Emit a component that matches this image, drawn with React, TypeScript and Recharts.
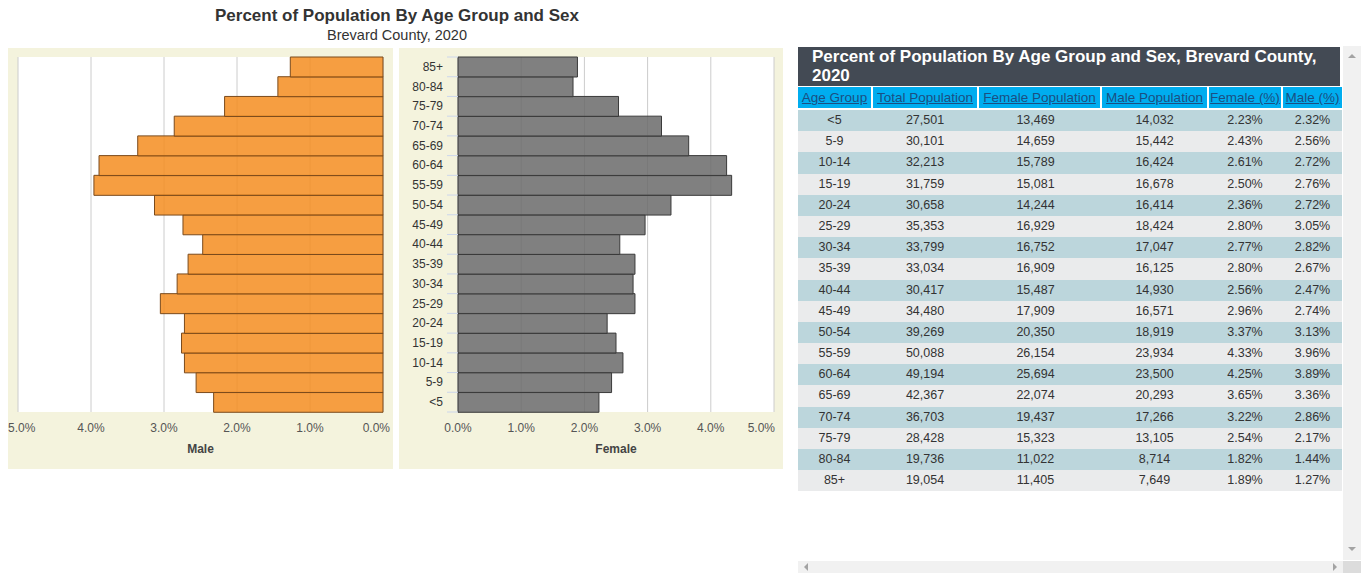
import React from 'react';
import { BarChart, Bar, XAxis, YAxis, CartesianGrid } from 'recharts';

const ageGroups = ['<5', '5-9', '10-14', '15-19', '20-24', '25-29', '30-34', '35-39', '40-44', '45-49', '50-54', '55-59', '60-64', '65-69', '70-74', '75-79', '80-84', '85+'];
const totalPopulation = [27501, 30101, 32213, 31759, 30658, 35353, 33799, 33034, 30417, 34480, 39269, 50088, 49194, 42367, 36703, 28428, 19736, 19054];
const femalePopulation = [13469, 14659, 15789, 15081, 14244, 16929, 16752, 16909, 15487, 17909, 20350, 26154, 25694, 22074, 19437, 15323, 11022, 11405];
const malePopulation = [14032, 15442, 16424, 16678, 16414, 18424, 17047, 16125, 14930, 16571, 18919, 23934, 23500, 20293, 17266, 13105, 8714, 7649];
const femalePct = [2.23, 2.43, 2.61, 2.5, 2.36, 2.8, 2.77, 2.8, 2.56, 2.96, 3.37, 4.33, 4.25, 3.65, 3.22, 2.54, 1.82, 1.89];
const malePct = [2.32, 2.56, 2.72, 2.76, 2.72, 3.05, 2.82, 2.67, 2.47, 2.74, 3.13, 3.96, 3.89, 3.36, 2.86, 2.17, 1.44, 1.27];
const pctTicks = [0, 1, 2, 3, 4, 5];
const columnHeaders = ['Age Group', 'Total Population', 'Female Population', 'Male Population', 'Female (%)', 'Male (%)'];

const FONT = "'Liberation Sans', Arial, Helvetica, sans-serif";
const PLOT_H = 355;
const BAND = PLOT_H / ageGroups.length;
const colWidths = [73, 104, 121, 105, 72, 59];

const chartData = ageGroups.map((age, i) => ({ age, male: malePct[i], female: femalePct[i] }));

const fmtNum = (v: number) => v.toLocaleString('en-US');
const fmtPct = (v: number) => v.toFixed(2) + '%';

// x tick labels; the outer ones are pulled inside the panel like the original
const MaleTick = (props: any) => {
  const { x, y, payload } = props;
  let anchor: 'start' | 'middle' | 'end' = 'middle';
  let tx = x;
  if (payload.value === 5) { anchor = 'start'; tx = x - 10; }
  if (payload.value === 0) { anchor = 'end'; tx = x + 7; }
  return (
    <text x={tx} y={y + 20} textAnchor={anchor} fontSize={12} fill="#555" fontFamily={FONT}>
      {payload.value.toFixed(1) + '%'}
    </text>
  );
};

const FemaleTick = (props: any) => {
  const { x, y, payload } = props;
  let anchor: 'start' | 'middle' | 'end' = 'middle';
  let tx = x;
  if (payload.value === 5) { anchor = 'end'; tx = x + 1; }
  return (
    <text x={tx} y={y + 20} textAnchor={anchor} fontSize={12} fill="#555" fontFamily={FONT}>
      {payload.value.toFixed(1) + '%'}
    </text>
  );
};

const AgeTick = (props: any) => {
  const { x, y, payload, index } = props;
  return (
    <g>
      <line x1={x - 11} x2={x} y1={y - BAND / 2} y2={y - BAND / 2} stroke="#ccd6eb" />
      {index === 0 && <line x1={x - 11} x2={x} y1={y + BAND / 2} y2={y + BAND / 2} stroke="#ccd6eb" />}
      <text x={x - 15} y={y + 4} textAnchor="end" fontSize={12} fill="#333" fontFamily={FONT}>
        {payload.value}
      </text>
    </g>
  );
};

const axisLabelStyle = { fontSize: 12, fontWeight: 'bold', fill: '#444', fontFamily: FONT };

const panelStyle: React.CSSProperties = {
  position: 'absolute',
  top: 48,
  height: 421,
  background: '#f4f3dd',
};

const Arrow = ({ dir, left, top }: { dir: 'up' | 'down' | 'left' | 'right'; left: number; top: number }) => {
  const c = '#a3a3a3';
  const s: React.CSSProperties = { position: 'absolute', left, top, width: 0, height: 0 };
  if (dir === 'up') Object.assign(s, { borderLeft: '4px solid transparent', borderRight: '4px solid transparent', borderBottom: `4px solid ${c}` });
  if (dir === 'down') Object.assign(s, { borderLeft: '4px solid transparent', borderRight: '4px solid transparent', borderTop: `4px solid ${c}` });
  if (dir === 'left') Object.assign(s, { borderTop: '4px solid transparent', borderBottom: '4px solid transparent', borderRight: `4px solid ${c}` });
  if (dir === 'right') Object.assign(s, { borderTop: '4px solid transparent', borderBottom: '4px solid transparent', borderLeft: `4px solid ${c}` });
  return <div style={s} />;
};

const DataTable = () => (
  <div style={{ position: 'absolute', left: 798, top: 47, width: 544, fontFamily: FONT }}>
    <div
      style={{
        background: '#434a54',
        color: '#fff',
        fontWeight: 'bold',
        fontSize: 17,
        lineHeight: '19px',
        padding: '0px 14px 0 14px',
        height: 39,
        boxSizing: 'border-box',
        width: 542,
      }}
    >
      Percent of Population By Age Group and Sex, Brevard County, 2020
    </div>
    <div style={{ display: 'flex', gap: 2, marginTop: 1, height: 21 }}>
      {columnHeaders.map((h, i) => (
        <div
          key={h}
          style={{
            width: colWidths[i],
            background: '#00adef',
            color: '#1b4f82',
            textDecoration: 'underline',
            fontSize: 13.5,
            lineHeight: '21px',
            textAlign: 'center',
            whiteSpace: 'nowrap',
            overflow: 'hidden',
          }}
        >
          {h}
        </div>
      ))}
    </div>
    <div style={{ marginTop: 2 }}>
      {ageGroups.map((age, r) => {
        const cells = [age, fmtNum(totalPopulation[r]), fmtNum(femalePopulation[r]), fmtNum(malePopulation[r]), fmtPct(femalePct[r]), fmtPct(malePct[r])];
        return (
          <div
            key={age}
            style={{
              display: 'flex',
              gap: 2,
              height: 21.2,
              background: r % 2 === 0 ? '#bcd6dc' : '#eaebec',
              width: 544,
            }}
          >
            {cells.map((c, i) => (
              <div
                key={i}
                style={{ width: colWidths[i], textAlign: 'center', fontSize: 12.5, lineHeight: '21.2px', color: '#333', paddingRight: i === 2 ? 8 : 0, boxSizing: 'border-box' }}
              >
                {c}
              </div>
            ))}
          </div>
        );
      })}
    </div>
  </div>
);

export default function App() {
  return (
    <div style={{ position: 'absolute', left: 0, top: 0, width: 1363, height: 573, overflow: 'hidden', background: '#fff', fontFamily: FONT }}>
      <div style={{ position: 'absolute', left: 8, width: 778, top: 6, textAlign: 'center', fontSize: 17, fontWeight: 'bold', color: '#333', lineHeight: '20px' }}>
        Percent of Population By Age Group and Sex
      </div>
      <div style={{ position: 'absolute', left: 8, width: 778, top: 26, textAlign: 'center', fontSize: 14.5, color: '#333', lineHeight: '18px' }}>
        Brevard County, 2020
      </div>

      <div style={{ ...panelStyle, left: 8, width: 385 }}>
        <BarChart width={385} height={421} data={chartData} layout="vertical" margin={{ top: 9, right: 10, bottom: 0, left: 10 }} barCategoryGap={0}>
          <CartesianGrid horizontal={false} stroke="#cccccc" fill="#ffffff" fillOpacity={1} />
          <XAxis
            type="number"
            domain={[0, 5]}
            ticks={pctTicks}
            interval={0}
            reversed
            height={57}
            tickSize={0}
            tickMargin={0}
            axisLine={false}
            tick={<MaleTick />}
            label={{ value: 'Male', position: 'insideBottom', offset: 16, style: axisLabelStyle }}
          />
          <YAxis type="category" dataKey="age" reversed hide />
          <Bar dataKey="male" fill="#f48d20" fillOpacity={0.85} stroke="#7a4a1c" strokeWidth={1} isAnimationActive={false} />
        </BarChart>
      </div>

      <div style={{ ...panelStyle, left: 399, width: 384 }}>
        <BarChart width={384} height={421} data={chartData} layout="vertical" margin={{ top: 9, right: 9, bottom: 0, left: 0 }} barCategoryGap={0}>
          <CartesianGrid horizontal={false} stroke="#cccccc" fill="#ffffff" fillOpacity={1} />
          <XAxis
            type="number"
            domain={[0, 5]}
            ticks={pctTicks}
            interval={0}
            height={57}
            tickSize={0}
            tickMargin={0}
            axisLine={false}
            tick={<FemaleTick />}
            label={{ value: 'Female', position: 'insideBottom', offset: 16, style: axisLabelStyle }}
          />
          <YAxis type="category" dataKey="age" reversed width={59} tickSize={0} tickMargin={0} axisLine={false} interval={0} tick={<AgeTick />} />
          <Bar dataKey="female" fill="#6a6a6a" fillOpacity={0.85} stroke="#3a3a3a" strokeWidth={1} isAnimationActive={false} />
        </BarChart>
      </div>

      <DataTable />

      {/* fake scrollbars of the table frame */}
      <div style={{ position: 'absolute', left: 1343, top: 46, width: 18, height: 514, background: '#f1f1f1' }} />
      <Arrow dir="up" left={1348} top={54} />
      <Arrow dir="down" left={1348} top={547} />
      <div style={{ position: 'absolute', left: 798, top: 561, width: 545, height: 12, background: '#f1f1f1' }} />
      <div style={{ position: 'absolute', left: 1343, top: 561, width: 18, height: 12, background: '#dcdcdc' }} />
      <Arrow dir="left" left={804} top={563} />
      <Arrow dir="right" left={1333} top={563} />
    </div>
  );
}
